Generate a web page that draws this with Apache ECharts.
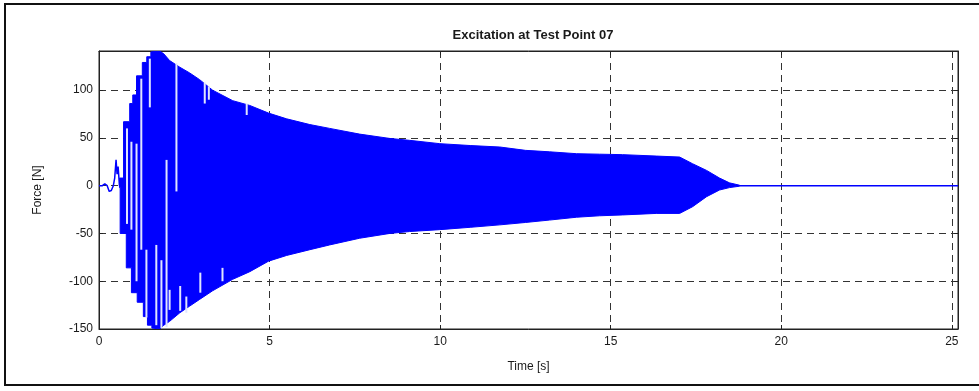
<!DOCTYPE html>
<html>
<head>
<meta charset="utf-8">
<title>Excitation at Test Point 07</title>
<script src="https://cdn.jsdelivr.net/npm/echarts@6/dist/echarts.min.js"></script>
<style>
  html, body { margin: 0; padding: 0; background: #fff; }
  #chart { width: 979px; height: 391px; }
</style>
</head>
<body>
<div id="chart"></div>
<script>
// start-up wiggle before the shaker kicks in
var wiggleT = [0, 0.1, 0.17, 0.24, 0.3, 0.36, 0.42, 0.46, 0.5, 0.53, 0.56, 0.6];
var wiggleV = [0, 0, 2, 0, -6, -5, 0, 8, 27, 12, 20, 0];

// upper envelope of the dense oscillation
var upT = [0.6, 0.72, 0.72, 0.9, 0.9, 0.99, 0.99, 1.1, 1.1, 1.27, 1.27, 1.4, 1.4, 1.52, 1.52, 1.78, 1.9,
    2.07, 2.37, 2.66, 2.95, 3.33, 3.92, 4.42, 4.97, 5.5, 6.18, 6.76, 7.64, 8.52, 9.1, 9.99, 10.9, 11.75,
    12.5, 13.2, 14.0, 14.67, 15.35, 16.35, 17.02, 17.4, 17.81, 18.19, 18.48, 18.78];
var upV = [8, 8, 67, 67, 86, 86, 95, 95, 115, 115, 129, 129, 135, 135, 140, 141, 138,
    131, 124, 118, 111, 100, 89, 84, 76, 70, 64, 60, 54, 49.5, 47.5, 44, 42, 40.5,
    37, 35.5, 33.5, 33, 32.5, 31, 30, 23, 16, 8, 3, 0.5];

// lower envelope
var loT = [0.6, 0.62, 0.62, 0.8, 0.8, 0.95, 0.95, 1.12, 1.12, 1.3, 1.3, 1.42, 1.42, 1.55, 1.55, 1.78, 1.9,
    2.07, 2.37, 2.66, 2.95, 3.33, 3.92, 4.42, 4.97, 5.5, 6.18, 6.76, 7.64, 8.52, 9.1, 9.99, 10.9, 11.75,
    12.5, 13.2, 14.0, 14.67, 15.35, 16.35, 17.02, 17.4, 17.81, 18.19, 18.48, 18.78];
var loV = [-2, -2, -50, -50, -86, -86, -112, -112, -122, -122, -137, -137, -146, -146, -149, -150, -146,
    -142, -133, -126, -119, -110, -98, -90, -79, -73, -67, -62, -55, -50, -48, -46, -43.5, -41,
    -38.5, -36, -33, -31.5, -30.6, -29, -29, -22, -11.5, -4.5, -2, -0.5];

// white gaps between the early oscillation strokes
var gapT = [0.82, 0.95, 1.1, 1.24, 1.39, 1.49, 1.68, 1.83, 1.98, 2.07, 2.27, 2.38, 2.56, 2.97, 3.1, 3.22, 3.62, 4.33];
var gapTop = [60, 46, 44, 112, -67, 133, -62, -78, 27, -109, 128, -105, -116, -91, 108, 104, -86, 86];
var gapBot = [-40, -46, -100, -67, -138, 82, -146, -149, -148, -130, -6, -131, -133, -112, 86, 90, -100, 74];

// signal after it dies out
var tailT = [18.78, 25.18];
var tailV = [0, 0];

var xTicks = [0, 5, 10, 15, 20, 25];
var yTicks = [-150, -100, -50, 0, 50, 100];

var myChart = echarts.init(document.getElementById('chart'));

var labelFont = {
    fontFamily: '"Liberation Sans", Arial, sans-serif',
    fontSize: 12,
    color: '#1a1a1a'
};

function sideAxis(pos, min, max, interval) {
    return {
        type: 'value',
        position: pos,
        min: min,
        max: max,
        interval: interval,
        axisLine: { show: true, onZero: false, lineStyle: { color: '#222' } },
        axisTick: { show: true, inside: true, length: 4, lineStyle: { color: '#222' } },
        axisLabel: { show: false },
        splitLine: { show: false }
    };
}

var option = {
    animation: false,
    title: {
        text: 'Excitation at Test Point 07',
        left: 528,
        textAlign: 'center',
        top: 24,
        textStyle: {
            fontFamily: '"Liberation Sans", Arial, sans-serif',
            fontSize: 13,
            fontWeight: 'bold',
            color: '#1a1a1a'
        }
    },
    graphic: [{
        type: 'rect',
        shape: { x: 5, y: 4, width: 990, height: 381 },
        style: { fill: 'none', stroke: '#111', lineWidth: 2 },
        silent: true
    }],
    grid: {
        left: 99,
        right: 21,
        top: 51,
        bottom: 62,
        show: true,
        borderColor: '#222',
        borderWidth: 1
    },
    xAxis: [{
        type: 'value',
        min: 0,
        max: 25.18,
        interval: 5,
        name: 'Time [s]',
        nameLocation: 'middle',
        nameGap: 32,
        nameTextStyle: labelFont,
        axisLine: { show: true, onZero: false, lineStyle: { color: '#222' } },
        axisTick: { show: true, inside: true, length: 4, lineStyle: { color: '#222' } },
        axisLabel: Object.assign({
            margin: 7,
            showMaxLabel: false,
            formatter: function (v) { return xTicks.indexOf(v) >= 0 ? String(v) : ''; }
        }, labelFont),
        splitLine: { show: true, lineStyle: { color: '#333', type: [7, 5], width: 1 } }
    }, sideAxis('top', 0, 25.18, 5)],
    yAxis: [{
        type: 'value',
        min: -150,
        max: 141,
        interval: 50,
        name: 'Force [N]',
        nameLocation: 'middle',
        nameGap: 55,
        nameTextStyle: labelFont,
        axisLine: { show: true, onZero: false, lineStyle: { color: '#222' } },
        axisTick: { show: true, inside: true, length: 4, lineStyle: { color: '#222' } },
        axisLabel: Object.assign({
            margin: 6,
            showMaxLabel: false,
            formatter: function (v) { return yTicks.indexOf(v) >= 0 ? String(v) : ''; }
        }, labelFont),
        splitLine: { show: true, lineStyle: { color: '#333', type: [7, 5], width: 1 } }
    }, sideAxis('right', -150, 141, 50)],
    series: [
        {
            name: 'wiggle',
            type: 'line',
            showSymbol: false,
            data: wiggleT.map(function (t, i) { return [t, wiggleV[i]]; }),
            lineStyle: { color: '#0000ff', width: 1.5 }
        },
        {
            // filled band between the two envelopes
            name: 'envelope',
            type: 'custom',
            clip: true,
            data: upT.map(function (t, i) { return [t, upV[i]]; }),
            renderItem: function (params, api) {
                if (params.dataIndex !== 0) return;
                var pts = [];
                for (var i = 0; i < upT.length; i++) pts.push(api.coord([upT[i], upV[i]]));
                for (var j = loT.length - 1; j >= 0; j--) pts.push(api.coord([loT[j], loV[j]]));
                return {
                    type: 'polygon',
                    shape: { points: pts },
                    style: { fill: '#0000ff', stroke: '#0000ff', lineWidth: 1 }
                };
            }
        },
        {
            name: 'gaps',
            type: 'custom',
            clip: true,
            data: gapT.map(function (t, i) { return [t, gapTop[i], gapBot[i]]; }),
            renderItem: function (params, api) {
                var a = api.coord([api.value(0), api.value(1)]);
                var b = api.coord([api.value(0), api.value(2)]);
                return {
                    type: 'line',
                    shape: { x1: a[0], y1: a[1], x2: b[0], y2: b[1] },
                    style: { stroke: '#dfe4ff', lineWidth: 2 }
                };
            }
        },
        {
            name: 'tail',
            type: 'line',
            showSymbol: false,
            data: tailT.map(function (t, i) { return [t, tailV[i]]; }),
            lineStyle: { color: '#0000ff', width: 1.5 }
        }
    ]
};

myChart.setOption(option);
</script>
</body>
</html>
